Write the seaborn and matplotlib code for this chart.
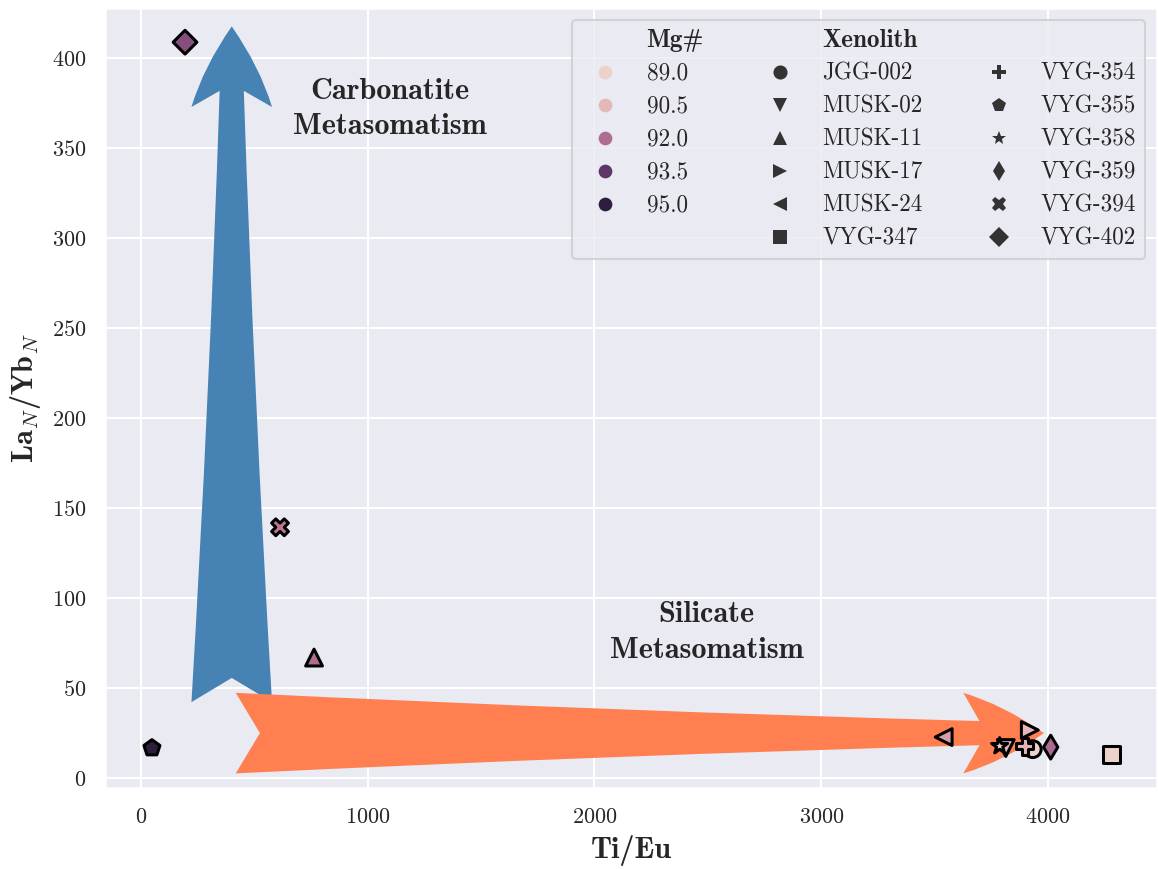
import matplotlib
matplotlib.use("Agg")
import matplotlib.pyplot as plt
from matplotlib.lines import Line2D
import numpy as np
import pandas as pd
import seaborn as sns

# ---------------- data ----------------
samples = ["JGG-002", "MUSK-02", "MUSK-11", "MUSK-17", "MUSK-24", "VYG-347",
           "VYG-354", "VYG-355", "VYG-358", "VYG-359", "VYG-394", "VYG-402"]
ti_eu = [3933, 3814, 763, 3920, 3540, 4281, 3898, 48, 3787, 4012, 613, 194]
la_yb = [16.1, 16.7, 67.0, 26.7, 22.8, 13.3, 17.8, 16.7, 17.8, 17.2, 139.4, 409.0]
mg_num = [90.0, 90.6, 92.0, 90.5, 91.0, 89.9, 90.6, 94.3, 90.1, 92.1, 91.8, 92.8]
sample_markers = ["o", "v", "^", ">", "<", "s", "P", "p", "*", "d", "X", "D"]
mg_legend = [89.0, 90.5, 92.0, 93.5, 95.0]
mg_range = (90.0, 94.3)

carb_arrow = [(400, 40), (400, 420)]
sil_arrow = [(400, 25), (4000, 25)]

df = pd.DataFrame({"Ti/Eu": ti_eu, "LaYb": la_yb, "Mg#": mg_num, "Xenolith": samples})

# ---------------- style ----------------
sns.set_theme(style="darkgrid")
plt.rcParams["font.family"] = ["cmr10", "DejaVu Serif"]
plt.rcParams["mathtext.fontset"] = "cm"
plt.rcParams["axes.formatter.use_mathtext"] = True

DPI = 145
fig = plt.figure(figsize=(1158 / DPI, 869 / DPI), dpi=DPI)
ax = fig.add_axes([105 / 1158, 1 - 788 / 869, (1157 - 105) / 1158, (788 - 8) / 869])

cmap = sns.cubehelix_palette(as_cmap=True)
norm = matplotlib.colors.Normalize(vmin=mg_range[0], vmax=mg_range[1], clip=True)

# arrows (behind the points)
arrow_style = "fancy,head_length=1,head_width=1,tail_width=1"
ax.annotate("", xy=carb_arrow[1], xytext=carb_arrow[0], zorder=1,
            arrowprops=dict(arrowstyle=arrow_style, mutation_scale=40,
                            color="steelblue", lw=0))
ax.annotate("", xy=sil_arrow[1], xytext=sil_arrow[0], zorder=1,
            arrowprops=dict(arrowstyle=arrow_style, mutation_scale=40,
                            color="coral", lw=0))

sns.scatterplot(data=df, x="Ti/Eu", y="LaYb", hue="Mg#", style="Xenolith",
                palette=cmap, hue_norm=norm,
                markers=dict(zip(samples, sample_markers)),
                s=70, edgecolor="black", linewidth=1.5, zorder=3,
                legend=False, ax=ax)

ax.text(1098, 372, "Carbonatite\nMetasomatism", ha="center", va="center",
        family="cmb10", fontsize=15, color="#262626", multialignment="center",
        linespacing=1.4)
ax.text(2495, 81, "Silicate\nMetasomatism", ha="center", va="center",
        family="cmb10", fontsize=15, color="#262626", multialignment="center",
        linespacing=1.4)

ax.set_xlim(-159, 4481)
ax.set_ylim(-5.5, 428)
ax.set_xticks([0, 1000, 2000, 3000, 4000])
ax.set_yticks(np.arange(0, 401, 50))
ax.tick_params(labelsize=11)
ax.set_xlabel("Ti/Eu", family="cmb10", fontsize=15)
ax.set_ylabel(r"La$_N$/Yb$_N$", family="cmb10", fontsize=15)

# ---------------- legend ----------------
blank = Line2D([], [], linestyle="", marker="")
hue_handles = [Line2D([], [], linestyle="", marker="o", markersize=6.8,
                      markerfacecolor=cmap(norm(v)), markeredgewidth=0)
               for v in mg_legend]
sty_handles = [Line2D([], [], linestyle="", marker=m, markersize=7,
                      markerfacecolor=".2", markeredgewidth=0, color=".2")
               for m in sample_markers]

handles = ([blank] + hue_handles + [blank]
           + [blank] + sty_handles[:6]
           + [blank] + sty_handles[6:])
labels = (["Mg#"] + [f"{v:.1f}" for v in mg_legend] + [""]
          + ["Xenolith"] + samples[:6]
          + [""] + samples[6:])

leg = ax.legend(handles, labels, ncol=3, loc="upper right", fontsize=11.5,
                columnspacing=2.3, labelspacing=0.47)
for t in leg.get_texts():
    if t.get_text() in ("Mg#", "Xenolith"):
        t.set_fontfamily("cmb10")
        t.set_fontsize(12.5)

fig.savefig("out.png", dpi=DPI)
